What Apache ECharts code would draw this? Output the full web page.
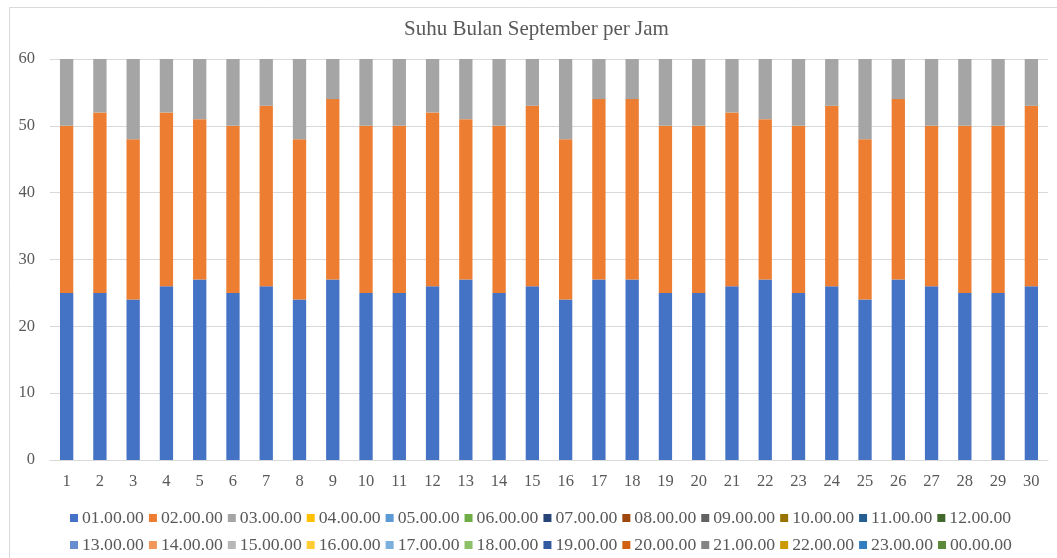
<!DOCTYPE html>
<html>
<head>
<meta charset="utf-8">
<script src="https://cdn.jsdelivr.net/npm/echarts@6/dist/echarts.min.js"></script>
<style>
html,body{margin:0;padding:0;background:#fff;}
#chart{width:1057px;height:558px;}
</style>
</head>
<body>
<div id="chart"></div>
<script>
const days = ['1','2','3','4','5','6','7','8','9','10','11','12','13','14','15','16','17','18','19','20','21','22','23','24','25','26','27','28','29','30'];
const hourNames = ['01.00.00','02.00.00','03.00.00','04.00.00','05.00.00','06.00.00','07.00.00','08.00.00','09.00.00','10.00.00','11.00.00','12.00.00',
  '13.00.00','14.00.00','15.00.00','16.00.00','17.00.00','18.00.00','19.00.00','20.00.00','21.00.00','22.00.00','23.00.00','00.00.00'];
const hourColors = ['#4472C4','#ED7D31','#A5A5A5','#FFC000','#5B9BD5','#70AD47','#264478','#9E480E','#636363','#997300','#255E91','#43682B',
  '#698ED0','#F1975A','#B7B7B7','#FFCD33','#7CAFDD','#8CC168','#335AA1','#D26012','#848484','#CC9A00','#327DC2','#5A8A39'];
// 01.00.00
const h01 = [25,25,24,26,27,25,26,24,27,25,25,26,27,25,26,24,27,27,25,25,26,27,25,26,24,27,26,25,25,26];
// 02.00.00
const h02 = [25,27,24,26,24,25,27,24,27,25,25,26,24,25,27,24,27,27,25,25,26,24,25,27,24,27,24,25,25,27];
// 03.00.00
const h03 = [10,8,12,8,9,10,7,12,6,10,10,8,9,10,7,12,6,6,10,10,8,9,10,7,12,6,10,10,10,7];
const yTicks = [0,10,20,30,40,50,60];

const hourData = [h01,h02,h03];
const series = hourNames.map((n,i)=>({
  name:n, type:'bar', stack:'total', barWidth:'40%',
  itemStyle:{color:hourColors[i]},
  data: hourData[i] ? hourData[i] : []
}));

const font = 'Liberation Serif, "Times New Roman", serif';
const legendText = {fontFamily:font,fontSize:17.7,color:'#595959',padding:[0,0,0,-1]};
const chart = echarts.init(document.getElementById('chart'));
chart.setOption({
  animation:false,
  backgroundColor:'#fff',
  textStyle:{fontFamily:font},
  graphic:[{type:'rect',left:7,top:5,shape:{width:1060,height:560},style:{fill:'none',stroke:'#D9D9D9',lineWidth:1},silent:true}],
  title:{text:'Suhu Bulan September per Jam',left:404,top:19,padding:0,
    textStyle:{fontFamily:font,fontSize:21,fontWeight:'normal',color:'#595959'}},
  grid:{left:50,right:9,top:59,bottom:98,containLabel:false},
  legend:[
    {data:hourNames.slice(0,12),left:65,top:504,itemWidth:8,itemHeight:8,itemGap:5,icon:'rect',textStyle:legendText},
    {data:hourNames.slice(12),left:65,top:531,itemWidth:8,itemHeight:8,itemGap:5,icon:'rect',textStyle:legendText}
  ],
  xAxis:{type:'category',data:days,
    axisLine:{lineStyle:{color:'#D9D9D9'}},axisTick:{show:false},
    axisLabel:{color:'#595959',fontSize:16.5,fontFamily:font,margin:13}},
  yAxis:{type:'value',min:yTicks[0],max:yTicks[yTicks.length-1],interval:10,
    axisLine:{show:false},axisTick:{show:false},
    splitLine:{lineStyle:{color:'#D9D9D9'}},
    axisLabel:{color:'#595959',fontSize:16.5,fontFamily:font,margin:15}},
  series:series
});
</script>
</body>
</html>
